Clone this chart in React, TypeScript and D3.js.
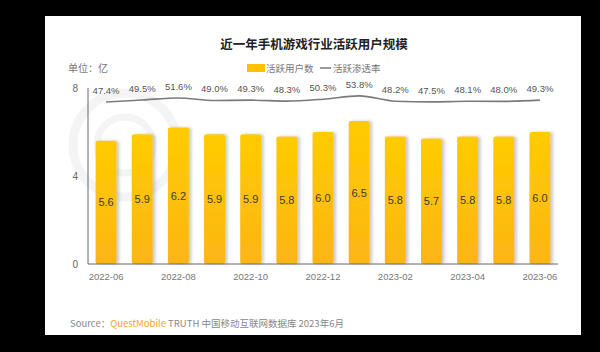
import React, { useEffect, useRef } from "react";
import * as d3 from "d3";

const months = [
  "2022-06", "2022-07", "2022-08", "2022-09", "2022-10", "2022-11", "2022-12",
  "2023-01", "2023-02", "2023-03", "2023-04", "2023-05", "2023-06",
];
const users = [5.6, 5.9, 6.2, 5.9, 5.9, 5.8, 6.0, 6.5, 5.8, 5.7, 5.8, 5.8, 6.0];
const rate = [47.4, 49.5, 51.6, 49.0, 49.3, 48.3, 50.3, 53.8, 48.2, 47.5, 48.1, 48.0, 49.3];
const yTicks = [0, 4, 8];
const tickMonths = ["2022-06", "2022-08", "2022-10", "2022-12", "2023-02", "2023-04", "2023-06"];

const W = 600;
const H = 352;
const CN = "'Noto Sans CJK SC', 'Liberation Sans', sans-serif";
const NUM = "'Liberation Sans', Arial, sans-serif";

const App = () => {
  const svgRef = useRef<SVGSVGElement>(null);

  useEffect(() => {
    const svg = d3.select(svgRef.current);
    svg.selectAll("*").remove();

    // black frame + white card
    svg.append("rect").attr("width", W).attr("height", H).attr("fill", "#000");
    svg.append("rect").attr("x", 45).attr("y", 16).attr("width", 536).attr("height", 319).attr("fill", "#fff");

    const defs = svg.append("defs");
    const grad = defs.append("linearGradient").attr("id", "barGrad")
      .attr("x1", 0).attr("y1", 0).attr("x2", 0).attr("y2", 1);
    grad.append("stop").attr("offset", "0%").attr("stop-color", "#FFCC00");
    grad.append("stop").attr("offset", "100%").attr("stop-color", "#FDB515");
    const f = defs.append("filter").attr("id", "shadow")
      .attr("x", "-20%").attr("y", "-10%").attr("width", "160%").attr("height", "120%");
    f.append("feDropShadow").attr("dx", 2.5).attr("dy", 0).attr("stdDeviation", 1.5)
      .attr("flood-color", "#888").attr("flood-opacity", 0.45);

    // faint watermark logo
    const wm = svg.append("g").attr("fill", "none").attr("stroke", "#f4f4f4");
    wm.append("circle").attr("cx", 125).attr("cy", 145).attr("r", 52).attr("stroke-width", 9);
    wm.append("circle").attr("cx", 125).attr("cy", 145).attr("r", 28).attr("stroke-width", 7);

    const x = d3.scaleBand<string>().domain(months).range([88, 558]).paddingInner(0.42).paddingOuter(0.21);
    const y = d3.scaleLinear().domain([0, 8]).range([264, 88]);
    const y2 = d3.scaleLinear().domain([40, 60]).range([109, 90]);

    // title
    svg.append("text").attr("x", 314).attr("y", 49).attr("text-anchor", "middle")
      .attr("font-family", CN).attr("font-size", 12.5).attr("font-weight", "bold")
      .attr("fill", "#222").text("近一年手机游戏行业活跃用户规模");

    svg.append("text").attr("x", 68).attr("y", 72).attr("font-family", CN)
      .attr("font-size", 10).attr("fill", "#777").text("单位：亿");

    // legend
    svg.append("rect").attr("x", 247).attr("y", 64).attr("width", 18).attr("height", 8).attr("fill", "#FFC000");
    svg.append("text").attr("x", 266).attr("y", 72).attr("font-family", CN)
      .attr("font-size", 9.5).attr("fill", "#777").text("活跃用户数");
    svg.append("line").attr("x1", 320).attr("x2", 331).attr("y1", 68).attr("y2", 68)
      .attr("stroke", "#777").attr("stroke-width", 1.5);
    svg.append("text").attr("x", 333).attr("y", 72).attr("font-family", CN)
      .attr("font-size", 9.5).attr("fill", "#777").text("活跃渗透率");

    // bars
    const bars = svg.append("g");
    bars.selectAll("rect").data(users).join("rect")
      .attr("x", (d, i) => x(months[i])!)
      .attr("y", d => y(d))
      .attr("width", x.bandwidth())
      .attr("height", d => y(0) - y(d))
      .attr("rx", 2)
      .attr("fill", "url(#barGrad)")
      .attr("filter", "url(#shadow)");
    bars.selectAll("text").data(users).join("text")
      .attr("x", (d, i) => x(months[i])! + x.bandwidth() / 2)
      .attr("y", d => (y(d) + y(0)) / 2 + 4)
      .attr("text-anchor", "middle")
      .attr("font-family", NUM).attr("font-size", 11).attr("fill", "#3a3a3a")
      .text(d => d.toFixed(1));

    // axes
    svg.append("line").attr("x1", 88).attr("x2", 88).attr("y1", y(8)).attr("y2", y(0))
      .attr("stroke", "#666").attr("stroke-width", 1);
    svg.append("line").attr("x1", 88).attr("x2", 558).attr("y1", y(0)).attr("y2", y(0))
      .attr("stroke", "#666").attr("stroke-width", 1);
    svg.append("g").selectAll("text").data(yTicks).join("text")
      .attr("x", 78).attr("y", d => y(d) + 3.5).attr("text-anchor", "end")
      .attr("font-family", NUM).attr("font-size", 10).attr("fill", "#666")
      .text(d => d);
    svg.append("g").selectAll("text").data(tickMonths).join("text")
      .attr("x", d => x(d)! + x.bandwidth() / 2).attr("y", 280).attr("text-anchor", "middle")
      .attr("font-family", NUM).attr("font-size", 9.5).attr("fill", "#777")
      .text(d => d);

    // rate line
    const line = d3.line<number>()
      .x((d, i) => x(months[i])! + x.bandwidth() / 2)
      .y(d => y2(d))
      .curve(d3.curveMonotoneX);
    svg.append("path").datum(rate).attr("d", line)
      .attr("fill", "none").attr("stroke", "#7a7a7a").attr("stroke-width", 1.6);
    svg.append("g").selectAll("text").data(rate).join("text")
      .attr("x", (d, i) => x(months[i])! + x.bandwidth() / 2)
      .attr("y", d => y2(d) - 8)
      .attr("text-anchor", "middle")
      .attr("font-family", NUM).attr("font-size", 9.5).attr("fill", "#555")
      .text(d => d.toFixed(1) + "%");

    // source
    const src = svg.append("text").attr("x", 70).attr("y", 327)
      .attr("font-family", CN).attr("font-size", 9.5).attr("fill", "#888");
    src.append("tspan").text("Source：");
    src.append("tspan").attr("fill", "#F5A623").text("QuestMobile");
    src.append("tspan").text(" TRUTH 中国移动互联网数据库 2023年6月");
  }, []);

  return (
    <div style={{ position: "fixed", left: 0, top: 0, width: W, height: H }}>
      <svg ref={svgRef} width={W} height={H} style={{ display: "block" }}></svg>
    </div>
  );
};

export default App;
